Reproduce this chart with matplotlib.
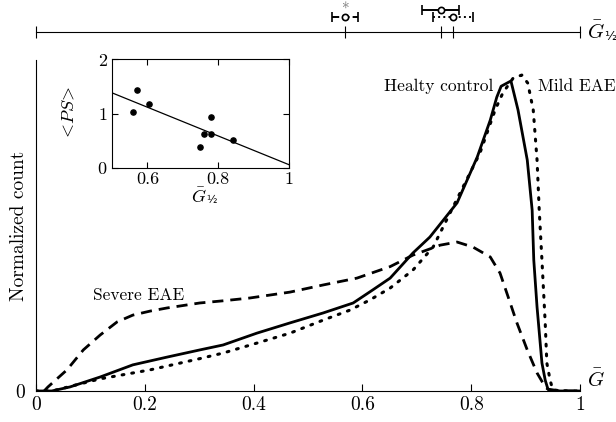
import numpy as np
import matplotlib
matplotlib.use("Agg")
import matplotlib.pyplot as plt
from matplotlib.transforms import offset_copy

plt.rcParams['font.family'] = 'serif'
plt.rcParams['font.serif'] = ['cmr10', 'DejaVu Serif']
plt.rcParams['mathtext.fontset'] = 'cm'
plt.rcParams['axes.formatter.use_mathtext'] = True
plt.rcParams['axes.unicode_minus'] = False

# healthy control (solid)
g_healthy = [0.0, 0.029, 0.0625, 0.118, 0.178, 0.241, 0.301, 0.344, 0.406, 0.467, 0.528,
             0.583, 0.619, 0.651, 0.693, 0.724, 0.774, 0.811, 0.835, 0.847, 0.855,
             0.873, 0.886, 0.903, 0.912, 0.915, 0.921, 0.930, 0.936, 0.941, 0.963, 1.0]
n_healthy = [0.0, 0.0, 0.013, 0.045, 0.084, 0.109, 0.132, 0.148, 0.186, 0.219, 0.251,
             0.283, 0.325, 0.363, 0.444, 0.495, 0.605, 0.752, 0.871, 0.945, 0.980,
             0.997, 0.904, 0.743, 0.582, 0.421, 0.270, 0.090, 0.035, 0.006, 0.0, 0.0]

# mild EAE (dotted)
g_mild = [0.0, 0.03, 0.068, 0.118, 0.21, 0.301, 0.344, 0.406, 0.467, 0.528, 0.577, 0.614,
          0.651, 0.693, 0.73, 0.761, 0.816, 0.844, 0.858, 0.877, 0.893, 0.904, 0.914,
          0.921, 0.925, 0.930, 0.936, 0.939, 0.945, 0.950, 0.976, 1.0]
n_mild = [0.0, 0.0, 0.017, 0.039, 0.068, 0.104, 0.122, 0.154, 0.186, 0.228, 0.26, 0.293,
          0.331, 0.389, 0.463, 0.572, 0.765, 0.904, 0.958, 1.006, 1.016, 0.99, 0.904,
          0.743, 0.582, 0.421, 0.219, 0.09, 0.035, 0.003, 0.0, 0.0]

# severe EAE (dashed)
g_severe = [0.015, 0.022, 0.057, 0.087, 0.118, 0.149, 0.178, 0.21, 0.241, 0.301, 0.344,
            0.393, 0.467, 0.528, 0.59, 0.651, 0.693, 0.743, 0.774, 0.803, 0.835, 0.853,
            0.868, 0.884, 0.903, 0.921, 0.936, 0.945, 1.0]
n_severe = [0.0, 0.013, 0.068, 0.132, 0.180, 0.222, 0.244, 0.257, 0.267, 0.283, 0.290,
            0.299, 0.318, 0.341, 0.363, 0.40, 0.437, 0.469, 0.479, 0.463, 0.431, 0.379,
            0.302, 0.219, 0.132, 0.058, 0.013, 0.0, 0.0]

# G1/2 summary (mean, half-width of error bar)
g_half_mean = {'healthy': 0.744, 'mild': 0.767, 'severe': 0.568}
g_half_err = {'healthy': 0.034, 'mild': 0.037, 'severe': 0.023}

# inset scatter
inset_g = [0.559, 0.571, 0.605, 0.749, 0.760, 0.780, 0.779, 0.843]
inset_ps = [1.02, 1.43, 1.18, 0.38, 0.62, 0.93, 0.63, 0.52]
fit_x = [0.5, 1.0]
fit_y = [1.38, 0.06]

fig = plt.figure(figsize=(6.16, 4.22), dpi=100)


def g_half(a, x, y, size, ha='left'):
    # G-bar with a small 1/2 subscript (cmr10 has no 1/2 glyph)
    dx = size * 0.82
    if ha == 'center':
        x0 = offset_copy(a.transAxes, fig=fig, x=-size * 0.5, y=0, units='points')
    else:
        x0 = a.transAxes
    a.text(x, y, r'$\bar{G}$', transform=x0, fontsize=size, ha='left', va='center')
    t2 = offset_copy(x0, fig=fig, x=dx, y=-size * 0.22, units='points')
    a.text(x, y, '½', transform=t2, fontsize=size * 0.6, ha='left', va='center',
           family='DejaVu Sans')


# main axes
ax = fig.add_axes([0.0584, 0.0735, 0.8832, 0.784])
ax.plot(g_healthy, n_healthy, color='black', lw=2.0, solid_joinstyle='round')
ax.plot(g_mild, n_mild, color='black', lw=2.2, ls=(0, (0.6, 2.6)), dash_capstyle='round')
ax.plot(g_severe, n_severe, color='black', lw=2.0, ls=(0, (4, 2.5)))
ax.set_xlim(0, 1)
ax.set_ylim(0, 1.064)
ax.spines['top'].set_visible(False)
ax.spines['right'].set_visible(False)
ax.set_xticks([0, 0.2, 0.4, 0.6, 0.8, 1])
ax.set_xticklabels(['0', '0.2', '0.4', '0.6', '0.8', '1'])
ax.set_yticks([0])
ax.set_yticklabels(['0'])
ax.tick_params(axis='x', direction='in', length=5, labelsize=14, pad=4)
ax.tick_params(axis='y', length=0, labelsize=14, pad=8)
ax.set_ylabel('Normalized count', fontsize=14)
ax.yaxis.set_label_coords(-0.015, 0.5)
ax.text(1.012, 0.035, r'$\bar{G}$', transform=ax.transAxes, fontsize=15, va='center')
ax.text(0.841, 0.92, 'Healty control', transform=ax.transAxes, fontsize=12.5, ha='right', va='center')
ax.text(0.923, 0.92, 'Mild EAE', transform=ax.transAxes, fontsize=12.5, ha='left', va='center')
ax.text(0.105, 0.29, 'Severe EAE', transform=ax.transAxes, fontsize=12.5, ha='left', va='center')

# inset
ins = fig.add_axes([0.1818, 0.602, 0.2873, 0.258])
ins.scatter(inset_g, inset_ps, s=14, color='black', zorder=3)
ins.plot(fit_x, fit_y, color='black', lw=0.9)
ins.set_xlim(0.5, 1)
ins.set_ylim(0, 2)
ins.set_xticks([0.6, 0.8, 1.0])
ins.set_xticklabels(['0.6', '0.8', '1'])
ins.set_yticks([0, 1, 2])
ins.tick_params(direction='in', top=True, right=True, length=4, labelsize=13, pad=3)
g_half(ins, 0.5, -0.26, 13, ha='center')
ins.set_ylabel(r'$<\!PS\!>$', fontsize=13)
ins.yaxis.set_label_coords(-0.2, 0.5)

# top G1/2 axis
top = fig.add_axes([0.0584, 0.924, 0.8832, 0.0758])
top.set_xlim(0, 1)
top.set_ylim(0, 1)
for s in ['top', 'left', 'right']:
    top.spines[s].set_visible(False)
top.set_yticks([])
top.set_xticks([0, g_half_mean['severe'], g_half_mean['healthy'], g_half_mean['mild'], 1])
top.set_xticklabels([])
top.tick_params(axis='x', direction='inout', length=8)
levels = {'healthy': 0.69, 'mild': 0.48, 'severe': 0.48}
styles = {'healthy': '-', 'mild': ':', 'severe': '--'}
for k in ['healthy', 'mild', 'severe']:
    eb = top.errorbar(g_half_mean[k], levels[k], xerr=g_half_err[k], fmt='o', ms=4.5,
                      mfc='white', mec='black', mew=1.2, color='black', capsize=3.5,
                      elinewidth=1.4, capthick=1.4)
    eb[2][0].set_linestyle(styles[k])
top.text(g_half_mean['severe'], 0.68, '*', color='0.45', fontsize=11, ha='center', va='center')
g_half(top, 1.012, 0.0, 15)
top.patch.set_visible(False)

fig.savefig('out.png', dpi=100)
